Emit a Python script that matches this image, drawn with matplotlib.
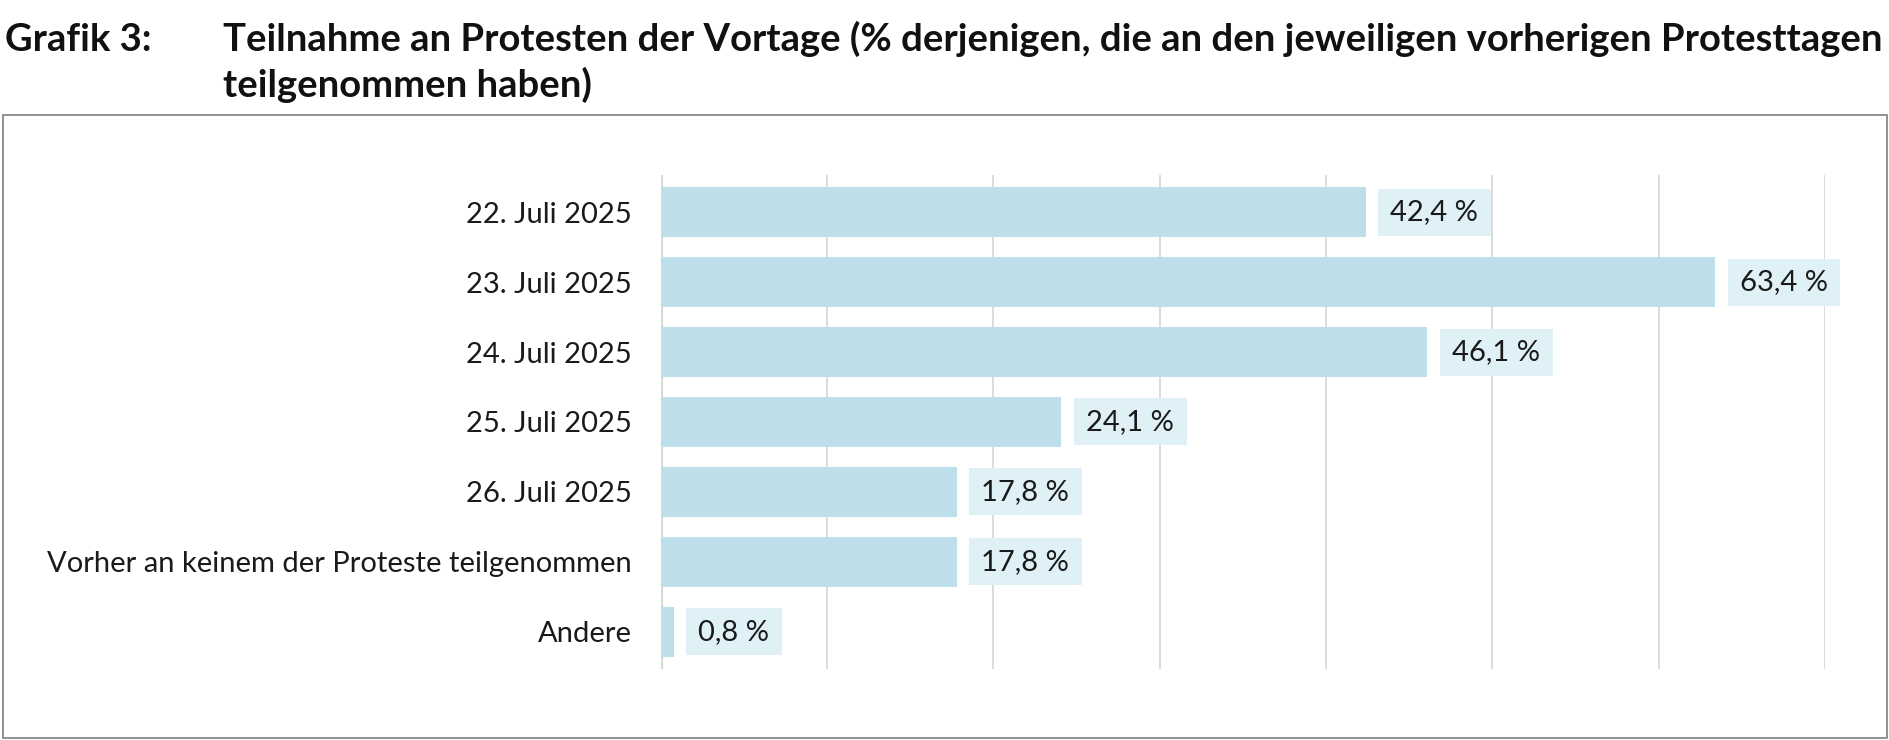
import matplotlib.pyplot as plt
from matplotlib.patches import Rectangle

categories = ["22. Juli 2025", "23. Juli 2025", "24. Juli 2025", "25. Juli 2025",
              "26. Juli 2025", "Vorher an keinem der Proteste teilgenommen", "Andere"]
values = [42.4, 63.4, 46.1, 24.1, 17.8, 17.8, 0.8]
value_labels = ["42,4 %", "63,4 %", "46,1 %", "24,1 %", "17,8 %", "17,8 %", "0,8 %"]
grid_ticks = [10, 20, 30, 40, 50, 60, 70]

W, H = 1890, 740
bar_color = "#bcdfea"
box_color = "#dff0f7"
grid_color = "#d9d9d9"

plt.rcParams['font.family'] = ['Lato', 'DejaVu Sans']

fig = plt.figure(figsize=(W / 100, H / 100), dpi=100)

# outer frame around the chart area
fig.add_artist(Rectangle((3 / W, 2 / H), (W - 6) / W, (H - 115 - 2) / H,
                         transform=fig.transFigure, fill=False,
                         edgecolor="#7f7f7f", linewidth=1.2))

# title
title_size = 27.5
fig.text(5 / W, 1 - 51 / H, "Grafik 3:", fontsize=title_size, fontweight="bold", color="#111111")
fig.text(223 / W, 1 - 51 / H, "Teilnahme an Protesten der Vortage (% derjenigen, die an den jeweiligen vorherigen Protesttagen",
         fontsize=title_size, fontweight="bold", color="#111111")
fig.text(223 / W, 1 - 97 / H, "teilgenommen haben)", fontsize=title_size, fontweight="bold", color="#111111")

# axes: x=0 at 660.6 px, x=70 at 1825 px; gridlines span y 175..669 px
x0, x70 = 660.6, 1825.0
top, bottom = 175.0, 669.0
ax = fig.add_axes([x0 / W, 1 - bottom / H, (x70 - x0) / W, (bottom - top) / H])
ax.set_xlim(0, 70)
ax.set_ylim(6.53, -0.53)

for t in grid_ticks:
    ax.axvline(t, color=grid_color, linewidth=1.3, zorder=0)
ax.axvline(0, color=grid_color, linewidth=3, zorder=0)

ypos = list(range(len(categories)))
ax.barh(ypos, values, height=0.72, color=bar_color, zorder=2)

for s in ax.spines.values():
    s.set_visible(False)
ax.set_xticks([])
ax.set_yticks(ypos)
ax.set_yticklabels(categories, fontsize=21, color="#1a1a1a")
ax.tick_params(axis="y", length=0, pad=29 * 0.72)

# value labels with light boxes
texts = []
for y, v, lab in zip(ypos, values, value_labels):
    t = ax.annotate(lab, (v, y), xytext=(24.5 * 0.72, 0), textcoords="offset points",
                    ha="left", va="center", fontsize=21, color="#1a1a1a",
                    zorder=5, annotation_clip=False)
    texts.append(t)

fig.canvas.draw()
renderer = fig.canvas.get_renderer()
inv = fig.transFigure.inverted()
for y, v, t in zip(ypos, values, texts):
    bb = t.get_window_extent(renderer)
    xs, yc = ax.transData.transform((v, y))
    x1 = xs + 12.3
    x2 = bb.x1 + 12.7
    (fx1, fy1) = inv.transform((x1, yc - 23.5))
    (fx2, fy2) = inv.transform((x2, yc + 23.5))
    ax.add_patch(Rectangle((fx1, fy1), fx2 - fx1, fy2 - fy1, transform=fig.transFigure,
                           facecolor=box_color, edgecolor="none", zorder=3, clip_on=False))

fig.savefig("out.png", dpi=100)
